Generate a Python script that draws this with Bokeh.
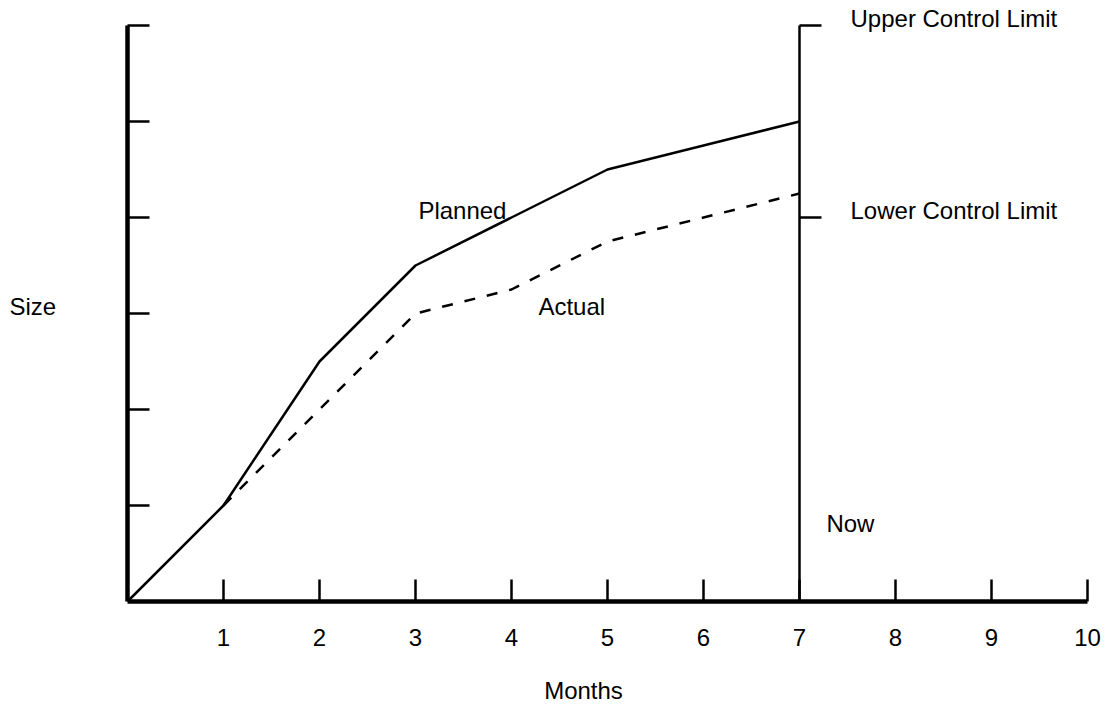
from bokeh.plotting import figure
from bokeh.models import LinearAxis, FixedTicker, Range1d, Grid
from bokeh.core.properties import value
from bokeh.embed import file_html
from bokeh.resources import INLINE

# ---- data ----
months = [0, 1, 2, 3, 4, 5, 6, 7]
planned = [0, 1, 2.5, 3.5, 4, 4.5, 4.75, 5]
actual_months = [1, 2, 3, 4, 5, 6, 7]
actual = [1, 2, 3, 3.25, 3.75, 4, 4.25]
x_ticks = [1, 2, 3, 4, 5, 6, 7, 8, 9, 10]
x_tick_labels = ["1", "2", "3", "4", "5", "6", "7", "8", "9", "10"]
y_ticks = [1, 2, 3, 4, 5, 6]
now_month = 7
control_limits = [6, 4]
control_labels = ["Upper Control Limit", "Lower Control Limit"]

# ---- layout ----
W, H = 1111, 708
PX = 96.0          # pixels per unit
ORIGIN_X = 127     # frame px of x=0
ORIGIN_Y = 601     # frame px (from top) of y=0
LIFT = 7 / PX      # text lift in data units
FONT = value("Liberation Sans")
FS = value("24px")

p = figure(width=W, height=H, output_backend="svg", toolbar_location=None,
           x_axis_location=None, y_axis_location=None,
           x_range=Range1d(-ORIGIN_X / PX, (W - ORIGIN_X) / PX),
           y_range=Range1d(-(H - ORIGIN_Y) / PX, ORIGIN_Y / PX),
           min_border=0, min_border_left=0, min_border_right=0,
           min_border_top=0, min_border_bottom=0)
p.outline_line_color = None
p.background_fill_color = "white"
p.border_fill_color = "white"
for r in list(p.center):
    if isinstance(r, Grid):
        r.visible = False

# axes
xaxis = LinearAxis(fixed_location=0, bounds=(0, 10),
                   ticker=FixedTicker(ticks=x_ticks),
                   major_label_overrides={t: l for t, l in zip(x_ticks, x_tick_labels)},
                   axis_line_width=4.5, axis_line_color="black",
                   major_tick_in=22, major_tick_out=0,
                   major_tick_line_width=2.5, major_tick_line_color="black",
                   minor_tick_line_color=None,
                   major_label_standoff=27,
                   major_label_text_font="Liberation Sans",
                   major_label_text_font_size="24px",
                   major_label_text_color="black")
p.add_layout(xaxis, "below")

yaxis = LinearAxis(fixed_location=0, bounds=(0, 6),
                   ticker=FixedTicker(ticks=y_ticks),
                   major_label_overrides={t: "" for t in y_ticks},
                   axis_line_width=4.5, axis_line_color="black",
                   major_tick_in=22, major_tick_out=0,
                   major_tick_line_width=2.5, major_tick_line_color="black",
                   minor_tick_line_color=None,
                   major_label_text_font_size="1px")
p.add_layout(yaxis, "left")

# lines
p.line(months, planned, line_color="black", line_width=2.5)
p.line(actual_months, actual, line_color="black", line_width=2.5, line_dash="11 12")

# "now" line and control limit marks
p.segment(x0=[now_month], y0=[0], x1=[now_month], y1=[max(control_limits)],
          line_color="black", line_width=2.5)
p.segment(x0=[now_month] * 2, y0=control_limits,
          x1=[now_month + 22 / PX] * 2, y1=control_limits,
          line_color="black", line_width=2.5)
p.text(x=[now_month] * 2, y=[c + LIFT for c in control_limits], text=control_labels,
       x_offset=51,
       text_font=FONT, text_font_size=FS, text_color="black",
       text_align="left", text_baseline="alphabetic")

# annotations
p.text(x=[3.03, 4.28, 7.28], y=[4 + LIFT, 3 + LIFT, 0.74 + LIFT],
       text=["Planned", "Actual", "Now"],
       text_font=FONT, text_font_size=FS, text_color="black",
       text_align="left", text_baseline="alphabetic")
p.text(x=[-1.23], y=[3 + LIFT], text=["Size"],
       text_font=FONT, text_font_size=FS, text_color="black",
       text_align="left", text_baseline="alphabetic")
p.text(x=[4.75], y=[-1.02 + 9 / PX], text=["Months"],
       text_font=FONT, text_font_size=FS, text_color="black",
       text_align="center", text_baseline="alphabetic")

open("out.html", "w").write(file_html(p, INLINE))
